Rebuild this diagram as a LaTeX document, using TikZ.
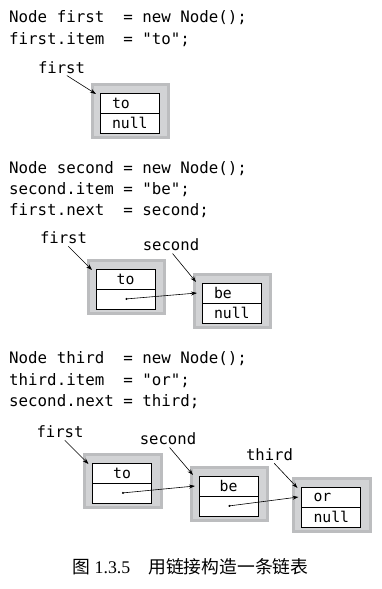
\documentclass[tikz,border=0pt]{standalone}
\usepackage{fontspec}
\setmainfont{Liberation Serif}
\setmonofont{DejaVu Sans Mono}
\newfontfamily\cjk{Noto Sans CJK SC}
\usetikzlibrary{arrows.meta,positioning,backgrounds}

\definecolor{boxgray}{RGB}{210,211,213}
\definecolor{boxedge}{RGB}{188,189,191}

\begin{document}
\begin{tikzpicture}[x=1pt, y=-1pt,
    code/.style={anchor=base west, inner sep=0pt, font=\ttfamily\fontsize{15.8}{19}\selectfont},
    ref/.style={anchor=base, inner sep=0pt, font=\ttfamily\fontsize{15.6}{19}\selectfont},
    cell/.style={draw, fill=white, line width=0.8pt, outer sep=0pt, inner sep=0pt, minimum width=59pt, minimum height=20pt, font=\ttfamily\fontsize{14.8}{15}\selectfont},
    lastcell/.style={cell, text width=35pt, align=left},
    nodebox/.style={fill=boxgray, draw=boxedge, line width=3pt},
    pointer/.style={-{Stealth[length=6pt,width=4pt]}, line width=0.6pt, shorten <=4pt},
    link/.style={{Circle[length=2pt]}-{Stealth[length=6pt,width=4pt]}, line width=0.6pt}
]
    \useasboundingbox (0,0) rectangle (382,589);

    % first node
    \node[code] (c11) at (9,23) {Node first~ = new Node();};
    \node[code] (c12) at (9,44) {first.item~ = "to";};
    \node[ref] (first1) at (61.5,73) {first};
    \node[lastcell] (to1) at (129.5,103) {to};
    \node[lastcell, below=0pt of to1] (null1) {null};
    \draw[pointer] ([xshift=2pt]first1.south) -- ([shift={(-4,1)}]to1.north west);

    % second node
    \node[code] (c21) at (9,173) {Node second = new Node();};
    \node[code] (c22) at (9,194) {second.item = "be";};
    \node[code] (c23) at (9,215) {first.next~ = second;};
    \node[ref] (first2) at (63.5,243) {first};
    \node[ref] (second2) at (171,250) {second};
    \node[cell] (to2) at (125.5,279) {to};
    \node[cell, below=0pt of to2] (next2) {};
    \node[lastcell] (be2) at (231.5,293) {be};
    \node[lastcell, below=0pt of be2] (null2) {null};
    \draw[pointer] ([xshift=2pt]first2.south) -- ([shift={(-4,1)}]to2.north west);
    \draw[pointer] ([xshift=-1pt]second2.south) -- ([shift={(-6,-1)}]be2.north west);
    \draw[link] (next2.center) -- ([xshift=-5pt]be2.west);

    % third node
    \node[code] (c31) at (9,363.5) {Node third~ = new Node();};
    \node[code] (c32) at (9,385) {third.item~ = "or";};
    \node[code] (c33) at (9,406.5) {second.next = third;};
    \node[ref] (first3) at (60,437) {first};
    \node[ref] (second3) at (168,444) {second};
    \node[ref] (third3) at (269.5,460) {third};
    \node[cell] (to3) at (122,473) {to};
    \node[cell, below=0pt of to3] (next3a) {};
    \node[cell] (be3) at (228.5,486) {be};
    \node[cell, below=0pt of be3] (next3b) {};
    \node[lastcell] (or3) at (331,497) {or};
    \node[lastcell, below=0pt of or3] (null3) {null};
    \draw[pointer] ([xshift=2pt]first3.south) -- ([shift={(-4,1)}]to3.north west);
    \draw[pointer] ([xshift=-1pt]second3.south) -- ([shift={(-6,-1)}]be3.north west);
    \draw[pointer] ([xshift=2pt]third3.south) -- ([shift={(-4,1)}]or3.north west);
    \draw[link] (next3a.center) -- ([xshift=-4pt]be3.west);
    \draw[link] (next3b.center) -- ([xshift=-3pt]or3.west);

    \begin{scope}[on background layer]
        \draw[nodebox] ([shift={(-8,-8.5)}]to1.north west) rectangle ([shift={(9.5,4.5)}]null1.south east);
        \draw[nodebox] ([shift={(-8,-8.5)}]to2.north west) rectangle ([shift={(9.5,4.5)}]next2.south east);
        \draw[nodebox] ([shift={(-8,-8.5)}]be2.north west) rectangle ([shift={(9.5,4.5)}]null2.south east);
        \draw[nodebox] ([shift={(-8,-8.5)}]to3.north west) rectangle ([shift={(9.5,4.5)}]next3a.south east);
        \draw[nodebox] ([shift={(-8,-8.5)}]be3.north west) rectangle ([shift={(9.5,4.5)}]next3b.south east);
        \draw[nodebox] ([shift={(-8,-8.5)}]or3.north west) rectangle ([shift={(9.5,4.5)}]null3.south east);
    \end{scope}

    \node[font=\fontsize{17.8}{18}\selectfont] (caption) at (190.5,567) {{\cjk 图}~1.3.5\hspace{18pt}{\cjk 用链接构造一条链表}};
\end{tikzpicture}
\end{document}
